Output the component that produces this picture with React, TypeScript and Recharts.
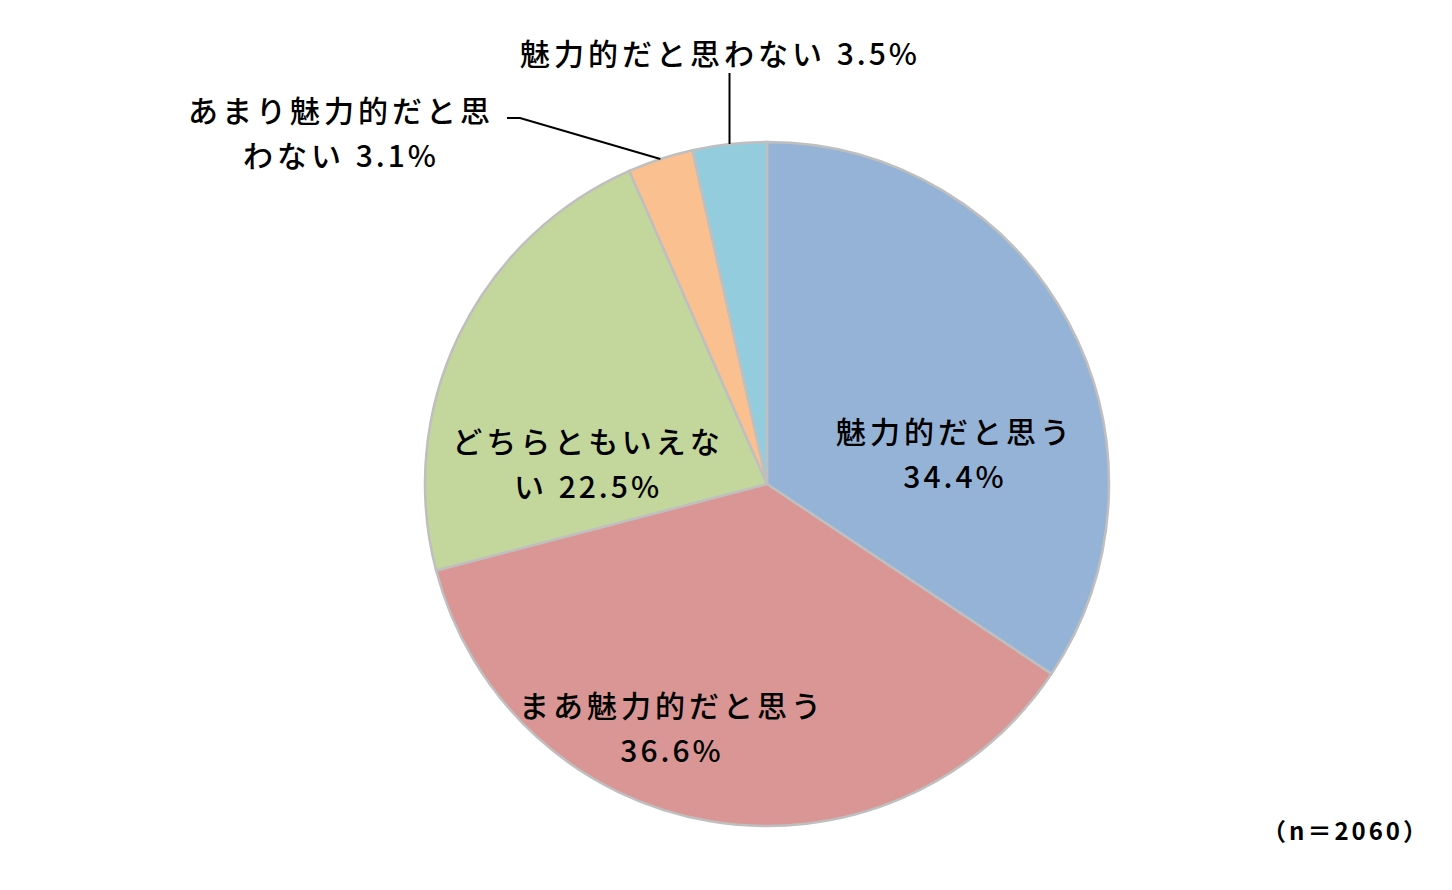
import React from "react";
import { PieChart, Pie, Cell } from "recharts";

// Categories and shares (%)
const categories = [
  "魅力的だと思う",
  "まあ魅力的だと思う",
  "どちらともいえない",
  "あまり魅力的だと思わない",
  "魅力的だと思わない",
];
const shares = [34.4, 36.6, 22.5, 3.1, 3.5];
const colors = ["#95B3D7", "#D99694", "#C3D69B", "#FAC090", "#93CDDD"];
const sampleNote = "（n＝2060）";

const data = categories.map((name, i) => ({ name, value: shares[i] }));

// Label placement relative to pie centre (first line centre), break index, leader line
const labelLayout = [
  { dx: 188, dy: -54, breakAt: 7, leader: null as null | number[][] },
  { dx: -95, dy: 220, breakAt: 9, leader: null },
  { dx: -179, dy: -44, breakAt: 8, leader: null },
  { dx: -426, dy: -375, breakAt: 9, leader: [[-247, -366], [-260, -366]] },
  { dx: -47, dy: -432, breakAt: -1, leader: [[-36, -411]] },
];

const W = 1452;
const H = 890;
const RAD = Math.PI / 180;
const FONT = "'Noto Sans CJK JP', 'Noto Sans', sans-serif";

const renderLabel = (props: any) => {
  const { cx, cy, midAngle, outerRadius, index, name, value } = props;
  const cfg = labelLayout[index];
  const pct = `${Number(value).toFixed(1)}%`;
  const full = `${name} ${pct}`;
  const lines =
    cfg.breakAt < 0
      ? [full]
      : [full.slice(0, cfg.breakAt), full.slice(cfg.breakAt).trim()];
  const x = cx + cfg.dx;
  const y = cy + cfg.dy;

  let leader = null;
  if (cfg.leader) {
    const sx = cx + outerRadius * Math.cos(-midAngle * RAD);
    const sy = cy + outerRadius * Math.sin(-midAngle * RAD);
    const pts = [[sx, sy], ...cfg.leader.map(([px, py]) => [cx + px, cy + py])];
    // vertical leader keeps the slice's x
    if (cfg.leader.length === 1) pts[1][0] = sx;
    leader = (
      <polyline
        points={pts.map((p) => p.join(",")).join(" ")}
        fill="none"
        stroke="#000"
        strokeWidth={2}
      />
    );
  }

  // split text so the percentage uses tighter spacing
  const renderLine = (t: string) => {
    const k = t.indexOf(pct);
    if (k < 0) return t;
    return (
      <>
        {t.slice(0, k)}
        <tspan letterSpacing={3}>{pct}</tspan>
      </>
    );
  };

  return (
    <g key={`lbl-${index}`}>
      {leader}
      {lines.map((t, i) => (
        <text
          key={i}
          x={x}
          y={y + i * 45}
          textAnchor="middle"
          dominantBaseline="central"
          fontFamily={FONT}
          fontSize={30}
          fontWeight={500}
          letterSpacing={4}
          fill="#000"
        >
          {renderLine(t)}
        </text>
      ))}
    </g>
  );
};

const App: React.FC = () => {
  return (
    <div
      style={{
        position: "absolute",
        top: 0,
        left: 0,
        width: W,
        height: H,
        background: "#fff",
      }}
    >
      <PieChart width={W} height={H} margin={{ top: 0, right: 0, bottom: 0, left: 0 }}>
        <Pie
          data={data}
          dataKey="value"
          nameKey="name"
          cx={767}
          cy={484}
          outerRadius={342}
          startAngle={90}
          endAngle={-270}
          stroke="#BFBFBF"
          strokeWidth={2.5}
          label={renderLabel}
          labelLine={false}
          isAnimationActive={false}
        >
          {data.map((entry, index) => (
            <Cell key={`cell-${index}`} fill={colors[index]} />
          ))}
        </Pie>
      </PieChart>
      <div
        style={{
          position: "absolute",
          left: 1262,
          top: 812,
          fontFamily: FONT,
          fontWeight: 700,
          fontSize: 24,
          letterSpacing: 3,
          color: "#000",
        }}
      >
        {sampleNote}
      </div>
    </div>
  );
};

export default App;
